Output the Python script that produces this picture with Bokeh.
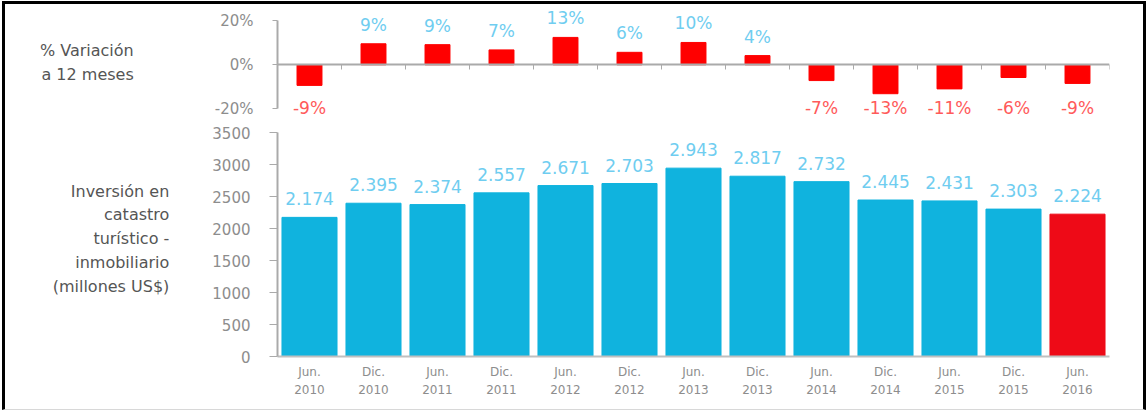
from bokeh.plotting import figure
from bokeh.layouts import column
from bokeh.models import (Range1d, LinearAxis, FixedTicker, ColumnDataSource)
from bokeh.core.properties import value
from bokeh.embed import file_html
from bokeh.resources import INLINE

# ---------------- data ----------------
periods = ["Jun.\n2010", "Dic.\n2010", "Jun.\n2011", "Dic.\n2011", "Jun.\n2012",
           "Dic.\n2012", "Jun.\n2013", "Dic.\n2013", "Jun.\n2014", "Dic.\n2014",
           "Jun.\n2015", "Dic.\n2015", "Jun.\n2016"]
inversion = [2174, 2395, 2374, 2557, 2671, 2703, 2943, 2817, 2732, 2445, 2431, 2303, 2224]
inversion_labels = ["2.174", "2.395", "2.374", "2.557", "2.671", "2.703", "2.943",
                    "2.817", "2.732", "2.445", "2.431", "2.303", "2.224"]
variacion = [-9.4, 9.6, 9.2, 6.8, 12.5, 5.7, 10.2, 4.2, -7.2, -13.2, -11.0, -5.8, -8.5]
variacion_labels = ["-9%", "9%", "9%", "7%", "13%", "6%", "10%", "4%",
                    "-7%", "-13%", "-11%", "-6%", "-9%"]
pct_ticks = [-20, 0, 20]
inv_ticks = [0, 500, 1000, 1500, 2000, 2500, 3000, 3500]
title_pct = "% Variación\na 12 meses"
title_inv = "Inversión en\ncatastro\nturístico -\ninmobiliario\n(millones US$)"

FONT_NAME = "DejaVu Sans"
FONT = value(FONT_NAME)
CYAN = "#10b3de"
RED_LAST = "#ee0a17"
RED = "#ff0000"
LBL_BLUE = "#6fcdf0"
LBL_RED = "#ff5a5a"
GRAY_TXT = "#8d8d8d"
TITLE_TXT = "#555555"
AXIS_GRAY = "#aaaaaa"

n = len(periods)
idx = list(range(n))
bar_colors = [RED_LAST if i == n - 1 else CYAN for i in idx]

src = ColumnDataSource(dict(i=idx, top=inversion, lbl=inversion_labels, color=bar_colors))
pos = [i for i in idx if variacion[i] >= 0]
neg = [i for i in idx if variacion[i] < 0]
src_pct = ColumnDataSource(dict(i=idx, v=variacion))
src_pos = ColumnDataSource(dict(i=pos, v=[variacion[i] for i in pos],
                                lbl=[variacion_labels[i] for i in pos]))
src_neg = ColumnDataSource(dict(i=neg, v=[-15 for i in neg],
                                lbl=[variacion_labels[i] for i in neg]))


def style_left_axis(ax, tick_out, standoff, title, title_standoff):
    ax.major_tick_out = tick_out
    ax.major_tick_in = 0
    ax.minor_tick_line_color = None
    ax.major_label_standoff = standoff
    ax.major_label_text_font = FONT_NAME
    ax.major_label_text_font_size = "15px"
    ax.major_label_text_color = GRAY_TXT
    ax.axis_line_color = AXIS_GRAY
    ax.major_tick_line_color = AXIS_GRAY
    ax.axis_line_width = 2
    ax.axis_label = title
    ax.axis_label_orientation = "horizontal"
    ax.axis_label_standoff = title_standoff
    ax.axis_label_text_font = FONT_NAME
    ax.axis_label_text_font_size = "16px"
    ax.axis_label_text_font_style = "normal"
    ax.axis_label_text_color = TITLE_TXT
    ax.axis_label_text_line_height = 1.25
    ax.axis_label_text_align = "center"


# ---------------- top chart: % variación ----------------
top = figure(x_range=Range1d(-0.5, n - 0.5), y_range=Range1d(-25.43, 27.53),
             width=1138, height=116, output_backend="svg", toolbar_location=None,
             x_axis_location=None, min_border_left=272, min_border_right=23,
             min_border_top=0, min_border_bottom=0)
top.outline_line_color = None
top.xgrid.visible = False
top.ygrid.visible = False

top.vbar(x="i", top="v", bottom=0, width=0.39, color=RED, source=src_pct)
top.text(x="i", y="v", text="lbl", source=src_pos, text_align="center",
         text_baseline="bottom", y_offset=-9, text_font=FONT,
         text_font_size="17px", text_color=LBL_BLUE)
top.text(x="i", y="v", text="lbl", source=src_neg, text_align="center",
         text_baseline="top", text_font=FONT, text_font_size="17px",
         text_color=LBL_RED)

pa = top.yaxis[0]
pa.ticker = FixedTicker(ticks=pct_ticks)
pa.bounds = (-20, 20)
pa.major_label_overrides = {t: f"{t}%" for t in pct_ticks}
style_left_axis(pa, 5, 19, title_pct, 78)

ta = LinearAxis(fixed_location=0, ticker=FixedTicker(ticks=[i + 0.5 for i in idx]))
ta.major_tick_out = 0
ta.major_tick_in = 5
ta.minor_tick_line_color = None
ta.major_label_text_font_size = "0px"
ta.major_label_standoff = 0
ta.axis_line_color = AXIS_GRAY
ta.major_tick_line_color = AXIS_GRAY
ta.axis_line_width = 2
top.add_layout(ta, "above")

# ---------------- bottom chart: inversión ----------------
bot = figure(x_range=Range1d(-0.5, n - 0.5), y_range=Range1d(0, 3687.5),
             width=1138, height=289, output_backend="svg", toolbar_location=None,
             min_border_left=272, min_border_right=34, min_border_top=0,
             min_border_bottom=53)
bot.outline_line_color = None
bot.xgrid.visible = False
bot.ygrid.visible = False

bot.vbar(x="i", top="top", width=0.86, color="color", source=src)
bot.text(x="i", y="top", text="lbl", source=src, text_align="center",
         text_baseline="bottom", y_offset=-12, text_font=FONT,
         text_font_size="17px", text_color=LBL_BLUE)

ya = bot.yaxis[0]
ya.ticker = FixedTicker(ticks=inv_ticks)
ya.bounds = (0, 3500)
style_left_axis(ya, 8, 19, title_inv, 40)

xa = bot.xaxis[0]
xa.ticker = FixedTicker(ticks=idx)
xa.major_label_overrides = {i: periods[i] for i in idx}
xa.major_tick_out = 0
xa.major_tick_in = 0
xa.minor_tick_line_color = None
xa.major_label_text_font = FONT_NAME
xa.major_label_text_font_size = "12px"
xa.major_label_text_color = GRAY_TXT
xa.major_label_text_line_height = 1.35
xa.major_label_standoff = 8
xa.axis_line_color = "#c0c0c0"
xa.axis_line_width = 2

layout = column(top, bot, spacing=0,
                styles={"margin-left": "2px", "margin-top": "1px",
                        "border-left": "3px solid #000", "border-top": "3px solid #000",
                        "border-right": "3px solid #000",
                        "border-bottom": "1px solid #d8d8d8"})

open("out.html", "w").write(file_html(layout, INLINE))
